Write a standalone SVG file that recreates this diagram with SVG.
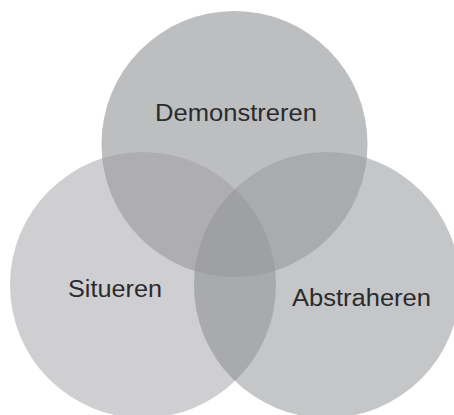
<svg xmlns="http://www.w3.org/2000/svg" width="454" height="415" viewBox="0 0 454 415">
<style>
.lbl{font-family:"Liberation Sans",Arial,sans-serif;font-size:23px;fill:#2b2b2e;text-anchor:middle}
</style>
<defs>
<clipPath id="cT"><circle cx="234.5" cy="144" r="133"/></clipPath>
<clipPath id="cL"><circle cx="143" cy="285" r="133"/></clipPath>
<clipPath id="cR"><circle cx="327" cy="285" r="133"/></clipPath>
</defs>
<rect width="454" height="415" fill="#ffffff"/>
<g id="situeren">
<circle cx="143" cy="285" r="133" fill="#cfcfd1"/>
</g>
<g id="abstraheren">
<circle cx="327" cy="285" r="133" fill="#c5c6c8"/>
</g>
<g id="demonstreren">
<circle cx="234.5" cy="144" r="133" fill="#bdbec0"/>
</g>
<g id="overlaps">
<g clip-path="url(#cL)"><circle cx="327" cy="285" r="133" fill="#a9aaac"/></g>
<g clip-path="url(#cL)"><circle cx="234.5" cy="144" r="133" fill="#aeaeb1"/></g>
<g clip-path="url(#cR)"><circle cx="234.5" cy="144" r="133" fill="#aaabae"/></g>
<g clip-path="url(#cL)"><g clip-path="url(#cR)"><circle cx="234.5" cy="144" r="133" fill="#9fa0a3"/></g></g>
</g>
<g id="labels">
<text class="lbl" x="236" y="121" textLength="162" lengthAdjust="spacingAndGlyphs">Demonstreren</text>
<text class="lbl" x="115" y="297" textLength="94" lengthAdjust="spacingAndGlyphs">Situeren</text>
<text class="lbl" x="361.5" y="306" textLength="139" lengthAdjust="spacingAndGlyphs">Abstraheren</text>
</g>
</svg>
